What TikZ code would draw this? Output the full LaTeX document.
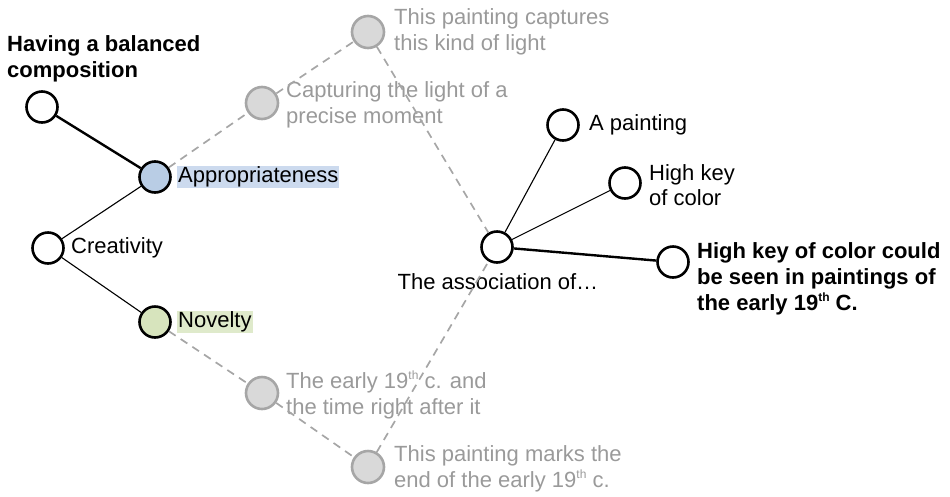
\documentclass[tikz,border=0pt]{standalone}
\usepackage{fontspec}
\setmainfont{Liberation Sans}
\usepackage{tikz}
\definecolor{cmBlue}{HTML}{B9CDE5}
\definecolor{cmGreen}{HTML}{D7E4BD}
\definecolor{cmGlowB}{HTML}{CCDAEE}
\definecolor{cmGlowG}{HTML}{DFEACB}
\definecolor{cmGrayF}{HTML}{D9D9D9}
\definecolor{cmGrayL}{HTML}{A6A6A6}
\definecolor{cmGrayT}{HTML}{9A9A9A}
\newcommand\supTh{\raisebox{0.75ex}{\fontsize{12}{12}\selectfont th}}
\tikzset{
  cnode/.style={circle,draw=black,fill=white,line width=2.6pt,minimum size=31pt,inner sep=0pt},
  gnode/.style={circle,draw=cmGrayL,fill=cmGrayF,line width=2.6pt,minimum size=32pt,inner sep=0pt},
  ctext/.style={anchor=west,align=left,inner sep=1pt,font=\fontsize{22}{25.5}\selectfont},
  gtext/.style={ctext,text=cmGrayT},
  btext/.style={ctext,font=\fontsize{22}{26}\selectfont\bfseries},
  thickedge/.style={line width=2.4pt},
  thinedge/.style={line width=1.1pt},
  faintedge/.style={draw=cmGrayL,line width=1.7pt,dash pattern=on 8pt off 6pt},
  glowblue/.style={preaction={fill=cmGlowB,rounded corners=6pt}},
  glowgreen/.style={preaction={fill=cmGlowG,rounded corners=6pt}}
}
\begin{document}
\begin{tikzpicture}[x=1pt,y=-1pt]
\useasboundingbox (0,0) rectangle (950,496);
% left tree
\node[cnode](bal) at (42,107){};
\node[cnode,fill=cmBlue](app) at (155,177){};
\node[cnode](cre) at (48,248){};
\node[cnode,fill=cmGreen](nov) at (155,322){};
\node[btext](balT) at (6,59){Having a balanced\\composition};
\node[ctext,glowblue](appT) at (177,177){Appropriateness};
\node[ctext](creT) at (70,248){Creativity};
\node[ctext,glowgreen](novT) at (177,322){Novelty};
% faint nodes
\node[gnode](cap) at (262,103){};
\node[gnode](cap2) at (368,32){};
\node[gnode](era) at (262,393){};
\node[gnode](era2) at (368,467){};
\node[gtext](capT) at (285,105){Capturing the light of a\\precise moment};
\node[gtext](cap2T) at (393,32){This painting captures\\this kind of light};
\node[gtext](eraT) at (285,395){The early 19\supTh{} c. and\\the time right after it};
\node[gtext](era2T) at (393,469){This painting marks the\\end of the early 19\supTh{} c.};
% right tree
\node[cnode](asc) at (497,247){};
\node[cnode](pnt) at (563,125){};
\node[cnode](key) at (625,183){};
\node[cnode](cld) at (673,262){};
\node[ctext,anchor=center](ascT) at (498,282){The association of\dots};
\node[ctext](pntT) at (588,125){A painting};
\node[ctext](keyT) at (648,185){High key\\of color};
\node[btext](cldT) at (696,279){High key of color could\\be seen in paintings of\\the early 19\supTh{} C.};
% connectors
\draw[thickedge](bal)--(app);
\draw[thinedge](app)--(cre);
\draw[thinedge](cre)--(nov);
\draw[faintedge](app)--(cap);
\draw[faintedge](cap)--(cap2);
\draw[faintedge](cap2)--(asc);
\draw[faintedge](nov)--(era);
\draw[faintedge](era)--(era2);
\draw[faintedge](era2)--(asc);
\draw[thinedge](asc)--(pnt);
\draw[thinedge](asc)--(key);
\draw[thickedge](asc)--(cld);
\end{tikzpicture}
\end{document}
